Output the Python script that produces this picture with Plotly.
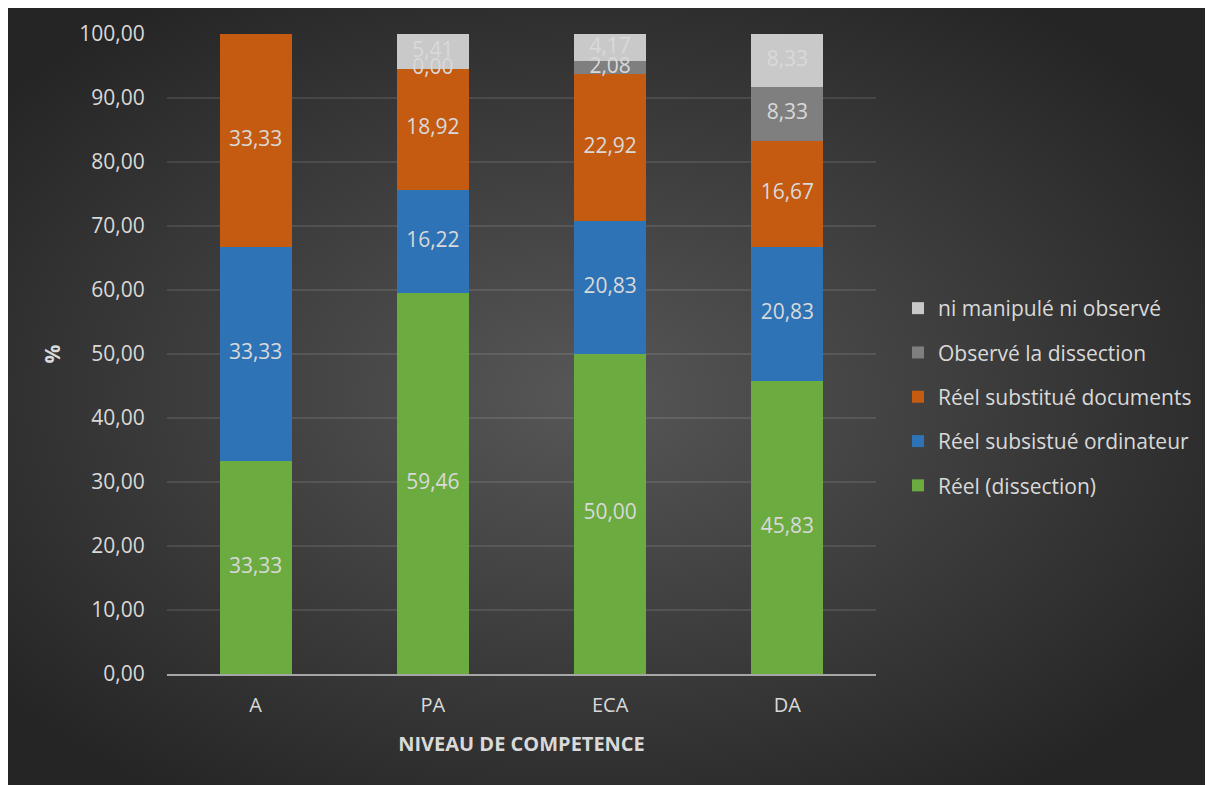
import plotly.graph_objects as go
import numpy as np
from urllib.parse import quote

categories = ["A", "PA", "ECA", "DA"]
reel_dissection = [33.33, 59.46, 50.00, 45.83]
reel_ordinateur = [33.33, 16.22, 20.83, 20.83]
reel_documents = [33.33, 18.92, 22.92, 16.67]
observe_dissection = [None, 0.00, 2.08, 8.33]
ni_manip_ni_obs = [None, 5.41, 4.17, 8.33]

series_names = ["Réel (dissection)", "Réel subsistué ordinateur", "Réel substitué documents",
                "Observé la dissection", "ni manipulé ni observé"]
series_values = [reel_dissection, reel_ordinateur, reel_documents, observe_dissection, ni_manip_ni_obs]
series_colors = ["#6BAB40", "#2E73B5", "#C55A11", "#7F7F7F", "#C9C9C9"]

TXT = "#D9D9D9"
FONT = "Open Sans"

# page body has an 8px margin; figure coordinates = reference pixels - 8
OFF = 8
W, H = 1213 - OFF, 785 - OFF
L, R, T, B = 167 - OFF, 876 - OFF, 34 - OFF, 674 - OFF

fig = go.Figure()
n = len(series_names)
for i, (name, vals, col) in enumerate(zip(series_names, series_values, series_colors)):
    fig.add_trace(go.Bar(
        x=categories, y=[v if v is not None else 0 for v in vals], name=name,
        marker=dict(color=col, line=dict(width=0)),
        legendgroup=f"g{i}", legendrank=n - i, hoverinfo="skip",
    ))

# data labels at segment midpoints
arr = np.array([[np.nan if v is None else v for v in s] for s in series_values])
cum = np.nancumsum(np.nan_to_num(arr), axis=0)
for i in range(n):
    xs, ys, ts = [], [], []
    for j, c in enumerate(categories):
        v = arr[i, j]
        if np.isnan(v):
            continue
        xs.append(c)
        ys.append(cum[i, j] - v / 2)
        ts.append(f"{v:.2f}".replace(".", ","))
    fig.add_trace(go.Scatter(
        x=xs, y=ys, text=ts, mode="text", showlegend=False, hoverinfo="skip",
        textfont=dict(family=FONT, size=21, color=TXT), cliponaxis=False,
    ))

svg = (f"<svg xmlns='http://www.w3.org/2000/svg' width='{W}' height='{H}' preserveAspectRatio='none'>"
       "<defs><radialGradient id='g' cx='48%' cy='50%' r='62%'>"
       "<stop offset='0' stop-color='#575757'/><stop offset='1' stop-color='#252525'/>"
       f"</radialGradient></defs><rect width='{W}' height='{H}' fill='url(#g)'/></svg>")
src = "data:image/svg+xml;charset=utf-8," + quote(svg)

pw, ph = R - L, B - T
fig.add_layout_image(dict(
    source=src, xref="paper", yref="paper",
    x=(0 - L) / pw, y=(B - 0) / ph, sizex=W / pw, sizey=H / ph,
    xanchor="left", yanchor="top", sizing="stretch", layer="below",
))

fig.update_layout(
    width=W, height=H,
    margin=dict(l=L, r=W - R, t=T, b=H - B),
    paper_bgcolor="#262626", plot_bgcolor="rgba(0,0,0,0)",
    barmode="stack", bargap=0.595,
    separators=", ",
    font=dict(family=FONT, size=21, color=TXT),
    showlegend=True,
    legend=dict(
        x=(890 - L) / pw, y=(B - (397 - OFF)) / ph, xanchor="left", yanchor="middle",
        traceorder="grouped", tracegroupgap=14,
        font=dict(family=FONT, size=21, color=TXT), bgcolor="rgba(0,0,0,0)",
    ),
    xaxis=dict(
        range=[-0.5, 3.5], showgrid=False, showline=True, linecolor="#A6A6A6", linewidth=2,
        ticks="outside", ticklen=12, tickcolor="rgba(0,0,0,0)",
        tickfont=dict(family=FONT, size=20, color=TXT),
        title=dict(text="<b>NIVEAU DE COMPETENCE</b>", standoff=20,
                   font=dict(family=FONT, size=20, color=TXT)),
    ),
    yaxis=dict(
        range=[0, 100], dtick=10, tickformat=".2f", showgrid=True,
        gridcolor="rgba(255,255,255,0.1)", gridwidth=1.5, zeroline=False, showline=False,
        ticks="outside", ticklen=17, tickcolor="rgba(0,0,0,0)",
        tickfont=dict(family=FONT, size=21, color=TXT),
        title=dict(text="<b>%</b>", standoff=12, font=dict(family=FONT, size=21, color=TXT)),
    ),
)

fig.write_html("out.html")
